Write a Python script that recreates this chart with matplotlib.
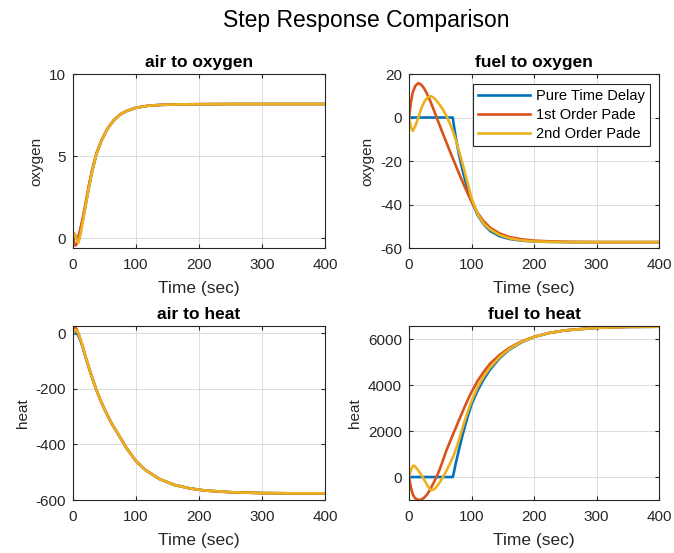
import matplotlib
matplotlib.use("Agg")
import matplotlib.pyplot as plt

# ---- data ----
series_names = ["Pure Time Delay", "1st Order Pade", "2nd Order Pade"]
series_colors = ["#0072BD", "#D95319", "#EDB120"]

# air to oxygen
t_ao = [0, 2, 4, 6, 8, 10, 13, 16, 20, 25, 30, 37, 45, 55, 65, 75, 85, 100, 120, 140, 170, 200, 250, 300, 400]
ao_delay = [0, 0, 0, 0, 0.05, 0.25, 0.7, 1.2, 2.0, 3.05, 4.0, 5.1, 5.92, 6.68, 7.18, 7.53, 7.74, 7.94, 8.07, 8.12, 8.15, 8.16, 8.17, 8.17, 8.17]
ao_pade1 = [0, -0.3, -0.45, -0.35, -0.1, 0.25, 0.8, 1.35, 2.15, 3.2, 4.1, 5.15, 5.95, 6.7, 7.2, 7.55, 7.75, 7.95, 8.07, 8.12, 8.15, 8.16, 8.17, 8.17, 8.17]
ao_pade2 = [0, 0.3, 0.2, -0.1, -0.3, -0.1, 0.45, 1.1, 2.0, 3.05, 4.0, 5.1, 5.92, 6.68, 7.18, 7.53, 7.74, 7.94, 8.07, 8.12, 8.15, 8.16, 8.17, 8.17, 8.17]

# fuel to oxygen
t_fo = [0, 3, 6, 10, 15, 20, 25, 30, 35, 40, 45, 50, 55, 60, 65, 70, 71, 72, 75, 80, 85, 90, 95, 100, 110, 120, 130, 145, 160, 180, 200, 230, 260, 300, 400]
fo_delay = [0, 0, 0, 0, 0, 0, 0, 0, 0, 0, 0, 0, 0, 0, 0, 0, -2, -4, -9.5, -17, -23.5, -29, -34, -38.3, -45, -49.3, -52.2, -54.6, -55.8, -56.6, -57, -57.2, -57.3, -57.3, -57.3]
fo_pade1 = [0, 7, 11.5, 14.5, 15.8, 15, 13, 10.2, 6.9, 3.2, -0.6, -4.3, -8, -11.6, -15.2, -18.7, -19.4, -20.1, -22.2, -25.7, -29.1, -32.4, -35.6, -38.6, -44, -47.9, -50.7, -53.3, -54.9, -56, -56.6, -57, -57.2, -57.3, -57.3]
fo_pade2 = [0, -4.5, -6.2, -4, 0, 4.5, 7.5, 9.3, 9.8, 9, 7.4, 5.5, 3.3, 0.7, -2.6, -6.2, -7.0, -7.8, -10.5, -15.5, -20.5, -26, -31.5, -37, -44.5, -49, -51.5, -54, -55.5, -56.5, -57, -57.2, -57.3, -57.3, -57.3]

# air to heat
t_ah = [0, 2, 4, 6, 8, 10, 13, 16, 20, 25, 30, 37, 45, 53, 62, 74, 85, 100, 115, 137, 160, 185, 210, 250, 300, 350, 400]
ah_delay = [0, 0, 0, 0, -5, -15, -33, -53, -86, -122, -157, -203, -248, -287, -327, -371, -413, -460, -492, -524, -545, -558, -566, -572, -575, -576, -576]
ah_pade1 = [0, 18, 22, 14, 2, -10, -30, -51, -84, -121, -156, -203, -248, -287, -327, -371, -413, -460, -492, -524, -545, -558, -566, -572, -575, -576, -576]
ah_pade2 = [0, 8, 14, 10, 3, -7, -28, -50, -84, -121, -156, -203, -248, -287, -327, -371, -413, -460, -492, -524, -545, -558, -566, -572, -575, -576, -576]

# fuel to heat
t_fh = [0, 3, 6, 8, 10, 15, 20, 25, 30, 35, 40, 45, 50, 55, 60, 65, 70, 71, 75, 80, 85, 90, 95, 100, 110, 120, 130, 145, 160, 180, 200, 225, 250, 300, 350, 400]
fh_delay = [0, 0, 0, 0, 0, 0, 0, 0, 0, 0, 0, 0, 0, 0, 0, 0, 0, 100, 620, 1200, 1760, 2260, 2730, 3160, 3780, 4280, 4690, 5180, 5540, 5870, 6100, 6280, 6390, 6500, 6540, 6550]
fh_pade1 = [0, -450, -750, -850, -930, -1000, -980, -880, -720, -480, -220, 60, 400, 780, 1170, 1500, 1830, 1900, 2150, 2480, 2800, 3120, 3420, 3700, 4200, 4600, 4950, 5320, 5620, 5910, 6110, 6280, 6390, 6500, 6540, 6550]
fh_pade2 = [0, 300, 480, 500, 450, 280, 80, -150, -400, -570, -540, -400, -200, 30, 280, 560, 850, 910, 1200, 1620, 2080, 2520, 2930, 3300, 3930, 4400, 4780, 5230, 5570, 5890, 6100, 6280, 6390, 6500, 6540, 6550]

panels = [
    ("air to oxygen", "oxygen", t_ao, [ao_delay, ao_pade1, ao_pade2], (-0.6, 10), [0, 5, 10]),
    ("fuel to oxygen", "oxygen", t_fo, [fo_delay, fo_pade1, fo_pade2], (-60, 20), [-60, -40, -20, 0, 20]),
    ("air to heat", "heat", t_ah, [ah_delay, ah_pade1, ah_pade2], (-600, 27), [-600, -400, -200, 0]),
    ("fuel to heat", "heat", t_fh, [fh_delay, fh_pade1, fh_pade2], (-1000, 6580), [0, 2000, 4000, 6000]),
]

plt.rcParams["font.family"] = ["Liberation Sans", "DejaVu Sans"]
plt.rcParams["font.size"] = 11
plt.rcParams["axes.unicode_minus"] = False

W, H = 674, 553
fig = plt.figure(figsize=(W / 100, H / 100), dpi=100)

# axes boxes in pixels: left, right, top, bottom
boxes = [
    (73, 325, 74, 248),
    (409, 659, 74, 248),
    (73, 325, 326, 500),
    (409, 659, 326, 500),
]

dark = "#262626"
for (title, ylab, t, ys, ylim, yticks), (l, r, tp, b) in zip(panels, boxes):
    ax = fig.add_axes([l / W, 1 - b / H, (r - l) / W, (b - tp) / H])
    for y, c, name in zip(ys, series_colors, series_names):
        ax.plot(t, y, color=c, lw=1.9, label=name)
    ax.set_xlim(0, 400)
    ax.set_ylim(*ylim)
    ax.set_xticks([0, 100, 200, 300, 400])
    ax.set_yticks(yticks)
    ax.grid(True, color="#dcdcdc", lw=0.7)
    ax.set_axisbelow(True)
    ax.tick_params(direction="in", length=3, top=True, right=True,
                   colors=dark, labelsize=11, pad=5)
    ax.tick_params(axis="x", pad=7)
    for s in ax.spines.values():
        s.set_color(dark)
        s.set_linewidth(0.8)
    ax.set_title(title, fontsize=12.5, fontweight="bold", pad=5)
    ax.set_xlabel("Time (sec)", fontsize=12.5, color=dark, labelpad=7)
    ax.set_ylabel(ylab, fontsize=11, color=dark, labelpad=4)
    if title == "fuel to oxygen":
        leg = ax.legend(loc="upper right", bbox_to_anchor=(0.964, 0.943),
                        borderaxespad=0, fontsize=10.5, handlelength=3.6,
                        labelspacing=0.35, borderpad=0.35, handletextpad=0.4,
                        fancybox=False, framealpha=1, edgecolor=dark)
        leg.get_frame().set_linewidth(0.8)

fig.text(366 / W, 1 - 20 / H, "Step Response Comparison", ha="center",
         va="center", fontsize=16.5)

fig.savefig("out.png", dpi=100)
